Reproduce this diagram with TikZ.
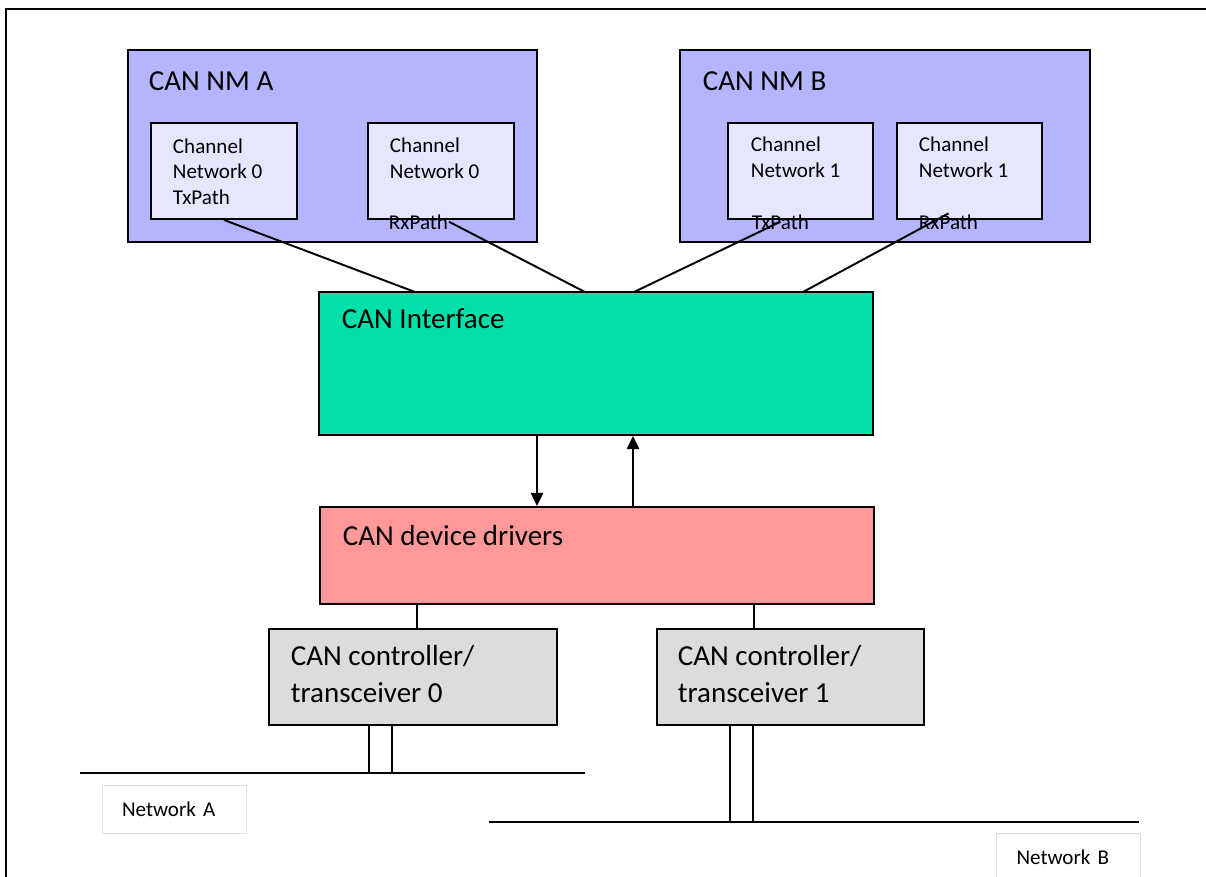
\documentclass[tikz,border=0pt]{standalone}
\usepackage{fontspec}
\setmainfont{Carlito}
\usepackage{tikz}
\usetikzlibrary{arrows.meta}
\definecolor{nmblue}{RGB}{181,181,255}
\definecolor{chblue}{RGB}{230,230,255}
\definecolor{ifgreen}{RGB}{0,224,168}
\definecolor{drvred}{RGB}{255,153,153}
\definecolor{ctlgray}{RGB}{220,220,220}

\begin{document}
\begin{tikzpicture}[x=0.02cm, y=-0.02cm, line width=1.1pt,
        box/.style={rectangle, draw, inner sep=0pt},
        big/.style={anchor=base west, inner sep=0pt, align=left, font=\fontsize{16.5}{20.5}\selectfont},
        small/.style={anchor=base west, inner sep=0pt, align=left, font=\fontsize{12}{14.5}\selectfont},
        netbox/.style={rectangle, draw=gray!25, line width=0.5pt, text width=2.08cm, inner xsep=0.4cm, minimum height=0.96cm, align=left, font=\fontsize{12}{14.5}\selectfont},
        arr/.style={-{Triangle[length=7.5pt, width=7pt]}}]
        \useasboundingbox (0,0) rectangle (1206,876);
        % Frame
        \draw (6,890) -- (6,9) -- (1220,9);

        % Network management
        \node[box, fill=nmblue, minimum width=8.18cm, minimum height=3.84cm] (nmA) at (332.5,146) {};
        \node[box, fill=nmblue, minimum width=8.2cm, minimum height=3.84cm] (nmB) at (885,146) {};
        \node[box, fill=chblue, minimum width=2.92cm, minimum height=1.92cm] (txA) at (224,171) {};
        \node[box, fill=chblue, minimum width=2.92cm, minimum height=1.92cm] (rxA) at (441,171) {};
        \node[box, fill=chblue, minimum width=2.9cm, minimum height=1.92cm] (txB) at (800.5,171) {};
        \node[box, fill=chblue, minimum width=2.9cm, minimum height=1.92cm] (rxB) at (969.5,171) {};

        \node[big] (nmAlbl) at (148,90) {CAN NM A};
        \node[big] (nmBlbl) at (702,90) {CAN NM B};
        % multi-line labels: base is the last line
        \node[small] (txAlbl) at (172,204) {Channel\\Network 0\\TxPath};
        \node[small] (rxAlbl) at (389,178) {Channel\\Network 0};
        \node[small] (rxApath) at (388,229) {RxPath};
        \node[small] (txBlbl) at (750,177) {Channel\\Network 1};
        \node[small] (txBpath) at (751,229) {TxPath};
        \node[small] (rxBlbl) at (918,177) {Channel\\Network 1};
        \node[small] (rxBpath) at (918,229) {RxPath};

        % Lower layers
        \node[box, fill=ifgreen, minimum width=11.08cm, minimum height=2.86cm] (canif) at (596,363.5) {};
        \node[box, fill=drvred, minimum width=11.08cm, minimum height=1.94cm] (drv) at (597,555.5) {};
        \node[box, fill=ctlgray, minimum width=5.76cm, minimum height=1.92cm] (ctl0) at (413,677) {};
        \node[box, fill=ctlgray, minimum width=5.34cm, minimum height=1.92cm] (ctl1) at (790.5,677) {};

        \node[big] (iflbl) at (341,328) {CAN Interface};
        \node[big] (drvlbl) at (342,545) {CAN device drivers};
        \node[big] (ctl0lbl) at (290,702) {CAN controller/\\transceiver 0};
        \node[big] (ctl1lbl) at (677,702) {CAN controller/\\transceiver 1};

        \coordinate (c1) at (415,292);
        \coordinate (c2) at (585,292);
        \coordinate (c3) at (634,292);
        \coordinate (c4) at (803,292);
        \draw (txA.south) -- (c1);
        \draw (rxApath.east) -- (c2);
        \draw (txBpath.center) -- (c3);
        \draw (rxBpath.north) -- (c4);

        \draw[arr] ([xshift=-1.18cm]canif.south) -- ([xshift=-1.2cm]drv.north);
        \draw[arr] ([xshift=0.72cm]drv.north) -- ([xshift=0.74cm]canif.south);
        \draw ([xshift=-3.6cm]drv.south) -- ([xshift=-3.6cm]drv.south |- ctl0.north);
        \draw ([xshift=3.14cm]drv.south) -- ([xshift=3.14cm]drv.south |- ctl1.north);

        % Buses
        \coordinate (busA0) at (80,773);
        \coordinate (busA1) at (585,773);
        \coordinate (busB0) at (489,822);
        \coordinate (busB1) at (1139,822);
        \draw (busA0) -- (busA1);
        \draw (busB0) -- (busB1);
        \draw ([xshift=-0.88cm]ctl0.south) -- ([xshift=-0.88cm]ctl0.south |- busA0);
        \draw ([xshift=-0.42cm]ctl0.south) -- ([xshift=-0.42cm]ctl0.south |- busA0);
        \draw ([xshift=-1.21cm]ctl1.south) -- ([xshift=-1.21cm]ctl1.south |- busB0);
        \draw ([xshift=-0.75cm]ctl1.south) -- ([xshift=-0.75cm]ctl1.south |- busB0);

        \node[netbox] (netA) at (174,809) {Network A};
        \node[netbox] (netB) at (1068.5,857) {Network B};
\end{tikzpicture}
\end{document}
